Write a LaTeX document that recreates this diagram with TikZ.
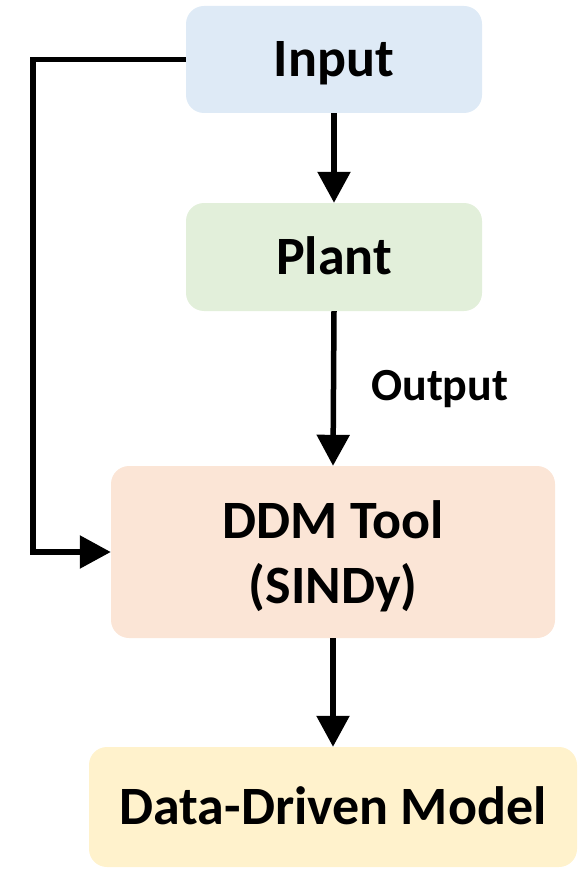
\documentclass[tikz,border=0pt]{standalone}
\usepackage{fontspec}
\setmainfont{Carlito}
\usetikzlibrary{arrows.meta}

\definecolor{inblue}{HTML}{DEEAF6}
\definecolor{plgreen}{HTML}{E2EFDA}
\definecolor{ddmorange}{HTML}{FBE5D6}
\definecolor{modgold}{HTML}{FFF2CC}

\begin{document}
\begin{tikzpicture}[x=1pt,y=-1pt,
  blk/.style={rounded corners=18pt, inner sep=0pt, align=center,
    font=\fontsize{54}{65}\selectfont\bfseries},
  oneline/.style={text height=34pt, text depth=0pt},
  flow/.style={line width=5.5pt, -{Triangle[length=31pt,width=32pt]}},
  lbl/.style={font=\fontsize{46}{54}\selectfont\bfseries, inner sep=0pt,
    text height=29pt, text depth=0pt}]
\useasboundingbox (0,0) rectangle (579,869);

% boxes
\node[blk, oneline, fill=inblue, minimum width=296pt, minimum height=107pt,
  text depth=-3pt] (inp) at (334,59.5) {Input};
\node[blk, oneline, fill=plgreen, minimum width=296pt, minimum height=108pt,
  text depth=-2pt] (plant) at (334,257) {Plant};
\node[blk, fill=ddmorange, minimum width=444pt, minimum height=172pt,
  text depth=0pt] (ddm) at (333,552) {DDM Tool\\(SINDy)};
\node[blk, oneline, fill=modgold, minimum width=488pt, minimum height=120pt,
  text depth=-10pt] (model) at (333,807) {Data-Driven Model};

% connectors
\draw[flow] (inp.south) -- (plant.north);
\draw[flow] (plant.south) -- (ddm.north);
\draw[flow] (ddm.south) -- (model.north);
\draw[flow] (inp.west) -- ++(-153,0) |- (ddm.west);

\node[lbl, anchor=west] (outlbl) at (371,386) {Output};
\end{tikzpicture}
\end{document}
